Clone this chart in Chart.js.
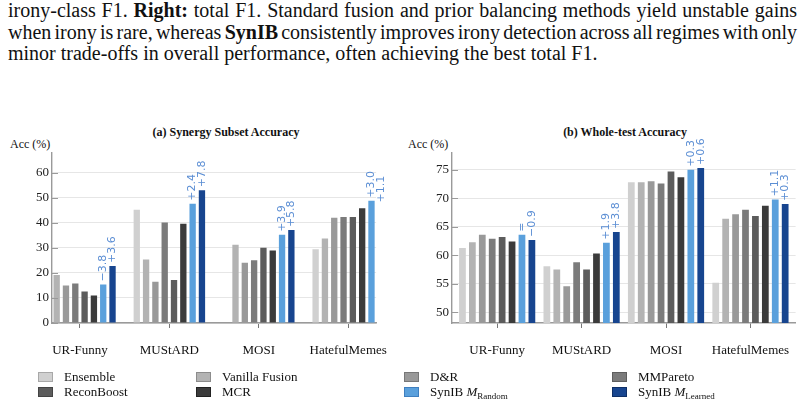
<!DOCTYPE html>
<html>
<head>
<meta charset="utf-8">
<script src="https://cdn.jsdelivr.net/npm/chart.js@4/dist/chart.umd.min.js"></script>
<style>
  body { margin: 0; width: 805px; height: 404px; position: relative; overflow: hidden; background: #fff; font-family: "Liberation Serif", "Times New Roman", serif; color: #111; }
  .cap { position: absolute; left: 8px; width: 789px; font-size: 20px; line-height: 21px; white-space: nowrap; }
  .just { text-align: justify; text-align-last: justify; word-spacing: -3px; }
  .ttl { position: absolute; font-weight: bold; font-size: 12px; transform: translateX(-50%); white-space: nowrap; }
  .acc { position: absolute; font-size: 12px; white-space: nowrap; }
  canvas { position: absolute; }
  .leg { position: absolute; font-size: 13px; white-space: nowrap; line-height: 14px; }
  .sw { display: inline-block; width: 13px; height: 8px; vertical-align: -1px; margin-right: 11px; border: 1px solid #888; }
  sub { font-size: 9px; vertical-align: -3px; line-height: 0; }
</style>
</head>
<body>
<div class="cap just" style="top:0px">irony-class F1. <b>Right:</b> total F1. Standard fusion and prior balancing methods yield unstable gains</div>
<div class="cap just" style="top:22px">when irony is rare, whereas <b>SynIB</b> consistently improves irony detection across all regimes with only</div>
<div class="cap" style="top:43px">minor trade-offs in overall performance, often achieving the best total F1.</div>

<div class="ttl" style="left:226px; top:125px">(a) Synergy Subset Accuracy</div>
<div class="ttl" style="left:625px; top:125px">(b) Whole-test Accuracy</div>
<div class="acc" style="left:10px; top:137px">Acc (%)</div>
<div class="acc" style="left:408px; top:137px">Acc (%)</div>

<canvas id="chartA" width="402" height="250" style="left:0px; top:120px"></canvas>
<canvas id="chartB" width="403" height="250" style="left:402px; top:120px"></canvas>

<div id="legend"></div>

<script>
const categories = ['UR-Funny', 'MUStARD', 'MOSI', 'HatefulMemes'];
const methods = ['Ensemble', 'Vanilla Fusion', 'D&R', 'MMPareto', 'ReconBoost', 'MCR', 'SynIB M_Random', 'SynIB M_Learned'];
const colors = ['#d0d0d0', '#b3b3b3', '#999999', '#7b7b7b', '#5c5c5c', '#3b3b3b', '#5aa0dc', '#17458f'];
const borders = ['#a8a8a8', '#8c8c8c', '#777777', '#5e5e5e', '#444444', '#222222', '#3f7fbf', '#0e2f66'];

// (a) Synergy subset accuracy, one array per method, in category order
const subEnsemble = [null, 45.2, null, 29.5];
const subVanilla  = [19.2, 25.4, 31.3, 33.8];
const subDR       = [15.0, 16.5, 24.1, 42.0];
const subPareto   = [15.8, 40.1, 25.1, 42.3];
const subRecon    = [12.6, 17.2, 30.1, 42.3];
const subMCR      = [11.0, 39.6, 29.0, 45.8];
const subRandom   = [15.4, 47.6, 35.2, 48.8];
const subLearned  = [22.8, 53.0, 37.1, 46.9];
const subRandomNote  = ['\u22123.8', '+2.4', '+3.9', '+3.0'];
const subLearnedNote = ['+3.6', '+7.8', '+5.8', '+1.1'];
const subTicks = [0, 10, 20, 30, 40, 50, 60];

// (b) Whole-test accuracy
const allEnsemble = [61.3, 58.1, 72.8, 55.2];
const allVanilla  = [62.3, 57.5, 72.8, 66.4];
const allDR       = [63.6, 54.6, 73.0, 67.2];
const allPareto   = [62.9, 58.8, 72.6, 68.0];
const allRecon    = [63.2, 57.5, 74.7, 66.9];
const allMCR      = [62.4, 60.3, 73.7, 68.7];
const allRandom   = [63.6, 62.2, 75.0, 69.8];
const allLearned  = [62.7, 64.1, 75.3, 69.0];
const allRandomNote  = ['=', '+1.9', '+0.3', '+1.1'];
const allLearnedNote = ['\u22120.9', '+3.8', '+0.6', '+0.3'];
const allTicks = [50, 55, 60, 65, 70, 75];

const serif = '"Liberation Serif", "Times New Roman", serif';

// rotated gain labels above the two SynIB bars
const notesPlugin = {
  id: 'notes',
  afterDatasetsDraw(chart, args, opts) {
    const ctx = chart.ctx;
    ctx.save();
    ctx.font = '11px "DejaVu Sans"';
    ctx.fillStyle = '#5b8ed4';
    ctx.textAlign = 'left';
    ctx.textBaseline = 'middle';
    [6, 7].forEach((di, k) => {
      const notes = opts.notes[k];
      chart.getDatasetMeta(di).data.forEach((bar, i) => {
        if (!notes[i] || bar.y == null || isNaN(bar.y)) return;
        ctx.save();
        ctx.translate(bar.x, bar.y - 3);
        ctx.rotate(-Math.PI / 2);
        ctx.fillText(notes[i], 0, 0);
        ctx.restore();
      });
    });
    // short inner ticks on the y axis
    const y = chart.scales.y;
    ctx.strokeStyle = '#9a9a9a';
    ctx.lineWidth = 1;
    y.ticks.forEach(t => {
      const py = Math.round(y.getPixelForValue(t.value)) + 0.5;
      ctx.beginPath();
      ctx.moveTo(chart.chartArea.left, py);
      ctx.lineTo(chart.chartArea.left + 6, py);
      ctx.stroke();
    });
    ctx.restore();
  }
};

function makeChart(id, series, notes, ticks, yMin, yMax, xMin, xMax, yWidth, padRight, catPct) {
  const datasets = series.map((vals, d) => ({
    label: methods[d],
    data: vals.map((v, i) => ({ x: i, y: v })),
    backgroundColor: colors[d],
    borderColor: borders[d],
    borderWidth: 0,
    categoryPercentage: catPct,
    barPercentage: 0.68
  }));
  return new Chart(document.getElementById(id), {
    type: 'bar',
    data: { datasets },
    plugins: [notesPlugin],
    options: {
      responsive: false,
      animation: false,
      layout: { padding: { top: 33, right: padRight, left: 0, bottom: 0 } },
      scales: {
        x: {
          type: 'linear',
          offset: false,
          bounds: 'data',
          min: xMin,
          max: xMax,
          afterFit: s => { s.height = 47; },
          afterBuildTicks: s => { s.ticks = categories.map((c, i) => ({ value: i })); },
          ticks: {
            callback: v => categories[v],
            font: { family: serif, size: 13 },
            color: '#111',
            padding: 15,
            maxRotation: 0,
            autoSkip: false
          },
          grid: { offset: false, drawOnChartArea: false, drawTicks: true, tickLength: 5, color: '#777' },
          border: { color: '#9a9a9a', width: 1.4 }
        },
        y: {
          min: yMin,
          max: yMax,
          afterFit: s => { s.width = yWidth; },
          afterBuildTicks: s => { s.ticks = ticks.map(v => ({ value: v })); },
          ticks: {
            font: { family: serif, size: 13 },
            color: '#222',
            padding: 3
          },
          grid: { color: '#e6e6e6', lineWidth: 1, drawTicks: false },
          border: { color: '#9a9a9a', width: 1.4 }
        }
      },
      plugins: {
        legend: { display: false },
        tooltip: { enabled: false },
        notes: { notes }
      }
    }
  });
}

makeChart('chartA',
  [subEnsemble, subVanilla, subDR, subPareto, subRecon, subMCR, subRandom, subLearned],
  [subRandomNote, subLearnedNote], subTicks, 0, 67.9, -0.3125, 3.3125, 52, 2, 0.833);

makeChart('chartB',
  [allEnsemble, allVanilla, allDR, allPareto, allRecon, allMCR, allRandom, allLearned],
  [allRandomNote, allLearnedNote], allTicks, 48.14, 77.93, -0.535, 3.535, 50, 7, 0.94);

// shared legend, 4 columns x 2 rows
const legX = [38, 196, 404, 612];
const legY = [370, 385];
const legend = document.getElementById('legend');
methods.forEach((m, i) => {
  const el = document.createElement('div');
  el.className = 'leg';
  el.style.left = legX[i % 4] + 'px';
  el.style.top = legY[Math.floor(i / 4)] + 'px';
  let name = m;
  if (m.startsWith('SynIB')) {
    name = 'SynIB <i>M</i><sub>' + m.split('_')[1] + '</sub>';
  } else {
    name = m.replace('&', '&amp;');
  }
  el.innerHTML = '<span class="sw" style="background:' + colors[i] + ';border-color:' + borders[i] + '"></span>' + name;
  legend.appendChild(el);
});
</script>
</body>
</html>
